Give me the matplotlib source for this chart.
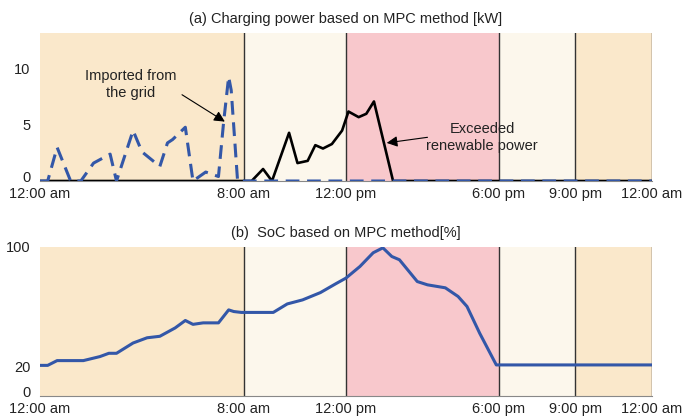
import numpy as np
import matplotlib.pyplot as plt
import matplotlib.transforms as mtransforms

plt.rcParams['font.family'] = ['Liberation Sans', 'DejaVu Sans']

# charging power imported from the grid [kW]
grid_h = [0, 0.3, 0.67, 1.2, 1.6, 2.1, 2.75, 3.0, 3.65, 4.0, 4.7, 5.0, 5.2, 5.7,
          6.0, 6.5, 7.0, 7.2, 7.4, 7.5, 7.75, 24]
grid_kw = [0, 0, 3.0, 0, 0, 1.6, 2.4, 0, 4.5, 2.6, 1.3, 3.4, 3.7, 4.8,
           0, 0.8, 0.4, 5.2, 9.3, 8.1, 0, 0]

# charging power from exceeded renewable power [kW]
ren_h = [0, 8.3, 8.75, 9.1, 9.77, 10.1, 10.5, 10.8, 11.1, 11.45, 11.85, 12.1,
         12.5, 12.8, 13.1, 13.85, 24]
ren_kw = [0, 0, 1.07, 0, 4.3, 1.6, 1.8, 3.2, 2.9, 3.3, 4.5, 6.2,
          5.7, 6.0, 7.1, 0, 0]

# state of charge [%]
soc_h = [0, 0.3, 0.67, 1.7, 2.35, 2.7, 3.0, 3.65, 4.2, 4.7, 5.3, 5.7, 6.0, 6.4,
         7.0, 7.4, 7.6, 7.9, 9.15, 9.7, 10.3, 11.0, 11.6, 12.0, 12.55, 13.07,
         13.45, 13.8, 14.1, 14.8, 15.2, 15.9, 16.4, 16.75, 17.25, 17.9, 24]
soc = [20.5, 20.5, 23.7, 23.7, 26.4, 28.6, 28.6, 35.5, 39, 40, 45.6, 50.6, 48, 49,
       49, 57.7, 56.6, 56, 56, 61.7, 64.4, 69.3, 75.2, 79, 86.8, 96,
       99.3, 93.5, 91.3, 76.7, 74.5, 72.5, 66.7, 60, 42, 20.8, 20.8]

# time-of-use periods
periods = [(0, 8), (8, 12), (12, 18), (18, 21), (21, 24)]
period_colors = ['#FAE8CB', '#FCF7EC', '#F8C8CC', '#FCF7EC', '#FAE8CB']
tick_h = [0, 8, 12, 18, 21, 24]
tick_lbl = ['12:00 am', '8:00 am', '12:00 pm', '6:00 pm', '9:00 pm', '12:00 am']

fs = 10.5
fig = plt.figure(figsize=(6.82, 4.19), dpi=100)
ax1 = fig.add_axes([0.0587, 0.568, 0.897, 0.353])
ax2 = fig.add_axes([0.0587, 0.055, 0.897, 0.356])

for ax in (ax1, ax2):
    for (a, b), c in zip(periods, period_colors):
        ax.axvspan(a, b, color=c, lw=0, zorder=0)
    for h in tick_h[1:]:
        ax.axvline(h, color='#333333', lw=1, zorder=1)
    ax.set_xlim(0, 24)
    ax.set_xticks(tick_h)
    ax.set_xticklabels(tick_lbl)
    ax.tick_params(length=0, labelsize=fs, colors='#222222')
    ax.tick_params(axis='x', pad=4)
    ax.tick_params(axis='y', pad=7)
    for s in ('top', 'left', 'right'):
        ax.spines[s].set_visible(False)
    ax.spines['bottom'].set_color('#888888')

ax1.plot(ren_h, ren_kw, color='black', lw=1.9, zorder=3)
ax1.plot(grid_h, grid_kw, color='#3357A8', lw=2.2, ls=(0, (4.5, 2.5)), zorder=4)
ax1.set_ylim(0, 13.2)
ax1.set_yticks([0, 5, 10])
ax1.set_title('(a) Charging power based on MPC method [kW]', fontsize=fs, pad=7,
              color='#222222')

ax1.text(3.55, 8.6, 'Imported from\nthe grid', ha='center', va='center',
         fontsize=fs, linespacing=1.3, color='#222222')
ax1.annotate('', xy=(7.25, 5.3), xytext=(5.57, 7.7),
             arrowprops=dict(arrowstyle='-|>', color='black', lw=0.8,
                             shrinkA=0, shrinkB=0, mutation_scale=16))
ax1.text(17.35, 3.9, 'Exceeded\nrenewable power', ha='center', va='center',
         fontsize=fs, linespacing=1.3, color='#222222')
ax1.annotate('', xy=(13.6, 3.4), xytext=(15.2, 3.9),
             arrowprops=dict(arrowstyle='-|>', color='black', lw=0.8,
                             shrinkA=0, shrinkB=0, mutation_scale=16))

ax2.plot(soc_h, soc, color='#3357A8', lw=2.2, zorder=3)
ax2.set_ylim(0, 100)
ax2.set_yticks([0, 20, 100])
ax2.set_title('(b)  SoC based on MPC method[%]', fontsize=fs, pad=7,
              color='#222222')

# nudge the "0" labels up a little so they clear the time labels below
fig.canvas.draw()
lift = mtransforms.ScaledTranslation(0, 3 / 72, fig.dpi_scale_trans)
for ax in (ax1, ax2):
    lbl = ax.get_yticklabels()[0]
    lbl.set_transform(lbl.get_transform() + lift)

fig.savefig('out.png', dpi=100)
